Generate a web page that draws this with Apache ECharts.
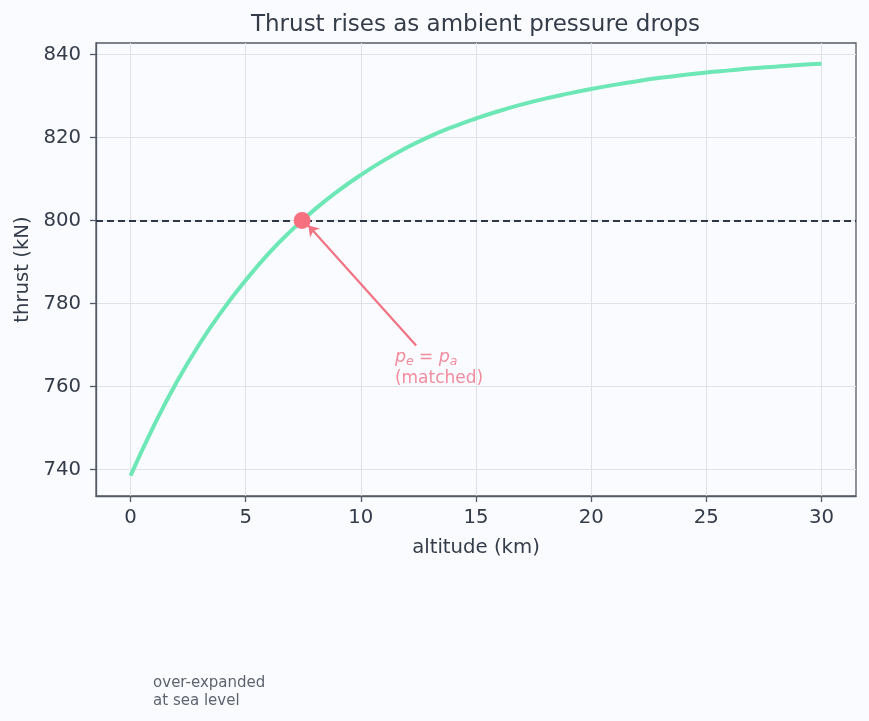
<!DOCTYPE html>
<html>
<head>
<meta charset="utf-8">
<script src="https://cdn.jsdelivr.net/npm/echarts@6/dist/echarts.min.js"></script>
<style>
  html, body { margin: 0; padding: 0; background: #fafbfe; }
  #container { width: 869px; height: 721px; }
</style>
</head>
<body>
<div id="container"></div>
<script>
// altitude (km) and thrust (kN)
var altitude = [0, 1, 2, 3, 4, 5, 6, 7, 8, 9, 10, 11, 12, 13, 14, 15,
                16, 17, 18, 19, 20, 21, 22, 23, 24, 25, 26, 27, 28, 29, 30];
var thrust = [738.5, 750.4, 761.0, 770.3, 778.4, 785.6, 792.1, 797.7, 802.7, 807.1, 811.0,
              814.5, 817.6, 820.3, 822.6, 824.6, 826.4, 828.0, 829.4, 830.6, 831.7,
              832.7, 833.6, 834.4, 835.1, 835.7, 836.2, 836.7, 837.1, 837.5, 837.8];

var xTicks = [0, 5, 10, 15, 20, 25, 30];
var yTicks = [740, 760, 780, 800, 820, 840];

var matchedThrust = 800;          // dashed reference line
var matchedPoint = [7.45, 800];   // p_e = p_a
var arrowFrom = [12.4, 769.9];
var arrowTo = [7.72, 798.8];
var matchedLabelAt = [11.5, 769.5];
var seaLevelLabelAt = [1, 690.5];

var textColor = '#343c4a';
var axisColor = '#555b66';
var mint = '#6ee7b7';
var pink = '#f7707f';
var fontFamily = 'DejaVu Sans';

var lineData = [];
for (var i = 0; i < altitude.length; i++) {
  lineData.push([altitude[i], thrust[i]]);
}

var dom = document.getElementById('container');
var myChart = echarts.init(dom, null, { renderer: 'canvas' });

var option = {
  backgroundColor: '#fafbfe',
  animation: false,
  textStyle: { fontFamily: fontFamily },
  title: {
    text: 'Thrust rises as ambient pressure drops',
    left: 475.5,
    top: 14,
    padding: 0,
    textAlign: 'center',
    textStyle: { fontFamily: fontFamily, fontSize: 23, fontWeight: 'normal', color: textColor }
  },
  grid: {
    left: 96, top: 43, right: 13, bottom: 225,
    show: true,
    borderColor: axisColor,
    borderWidth: 1.3,
    backgroundColor: '#fafbfe',
    outerBoundsMode: 'none'
  },
  xAxis: {
    type: 'value',
    min: -1.5,
    max: 31.5,
    name: 'altitude (km)',
    nameLocation: 'middle',
    nameGap: 42,
    nameTextStyle: { fontFamily: fontFamily, fontSize: 19.7, color: textColor },
    axisLine: { show: true, onZero: false, lineStyle: { color: axisColor, width: 1.3 } },
    axisTick: { show: true, length: 6, customValues: xTicks, lineStyle: { color: axisColor, width: 1.3 } },
    axisLabel: { customValues: xTicks, margin: 12, fontFamily: fontFamily, fontSize: 19.7, color: textColor },
    splitLine: { show: true, lineStyle: { color: '#dfe2e8', width: 1.1 } }
  },
  yAxis: {
    type: 'value',
    min: 733.6,
    max: 842.8,
    name: 'thrust (kN)',
    nameLocation: 'middle',
    nameGap: 63,
    nameTextStyle: { fontFamily: fontFamily, fontSize: 19.7, color: textColor },
    axisLine: { show: true, onZero: false, lineStyle: { color: axisColor, width: 1.3 } },
    axisTick: { show: true, length: 6, customValues: yTicks, lineStyle: { color: axisColor, width: 1.3 } },
    axisLabel: { customValues: yTicks, margin: 15, fontFamily: fontFamily, fontSize: 19.7, color: textColor },
    splitLine: { show: true, lineStyle: { color: '#dfe2e8', width: 1.1 } }
  },
  series: [
    {
      name: 'thrust',
      type: 'line',
      data: lineData,
      smooth: true,
      symbol: 'none',
      z: 3,
      lineStyle: { color: mint, width: 4 },
      markLine: {
        silent: true,
        symbol: 'none',
        label: { show: false },
        lineStyle: { color: '#2d3748', type: [7, 4], width: 2 },
        data: [{ yAxis: matchedThrust }]
      }
    },
    {
      name: 'matched',
      type: 'scatter',
      data: [matchedPoint],
      symbolSize: 17,
      z: 5,
      itemStyle: { color: pink, opacity: 1 }
    },
    {
      // arrow from the label to the matched point
      name: 'matched arrow',
      type: 'scatter',
      data: [],
      z: 6,
      itemStyle: { color: '#f07383' },
      markLine: {
        silent: true,
        symbol: ['none', 'arrow'],
        symbolSize: 10,
        label: { show: false },
        itemStyle: { color: '#f07383' },
        lineStyle: { color: '#f07383', type: 'solid', width: 2.2 },
        data: [[
          { coord: arrowFrom, symbol: 'none' },
          { coord: arrowTo, symbol: 'arrow', symbolSize: 10 }
        ]]
      }
    },
    {
      name: 'matched label',
      type: 'scatter',
      data: [matchedLabelAt],
      symbolSize: 1,
      silent: true,
      itemStyle: { color: 'transparent' },
      label: {
        show: true,
        position: [0, 0],
        align: 'left',
        verticalAlign: 'top',
        color: '#ef6f86',
        formatter: '{i|p}{s|e}{n| = }{i|p}{s|a}\n{n|(matched)}',
        rich: {
          i: { fontFamily: fontFamily, fontStyle: 'italic', fontSize: 17.5, lineHeight: 22, color: '#ef6f86' },
          s: { fontFamily: fontFamily, fontStyle: 'italic', fontSize: 12.5, lineHeight: 12, verticalAlign: 'bottom', color: '#ef6f86' },
          n: { fontFamily: fontFamily, fontSize: 17, lineHeight: 20, color: '#ef6f86' }
        }
      }
    },
    {
      name: 'sea level note',
      type: 'scatter',
      data: [seaLevelLabelAt],
      symbolSize: 1,
      clip: false,
      silent: true,
      itemStyle: { color: 'transparent' },
      label: {
        show: true,
        position: [0, 0],
        align: 'left',
        verticalAlign: 'top',
        formatter: 'over-expanded\nat sea level',
        fontFamily: fontFamily,
        fontSize: 15,
        lineHeight: 18,
        color: textColor
      }
    }
  ]
};

if (option && typeof option === 'object') {
  myChart.setOption(option, true);
}
</script>
</body>
</html>
